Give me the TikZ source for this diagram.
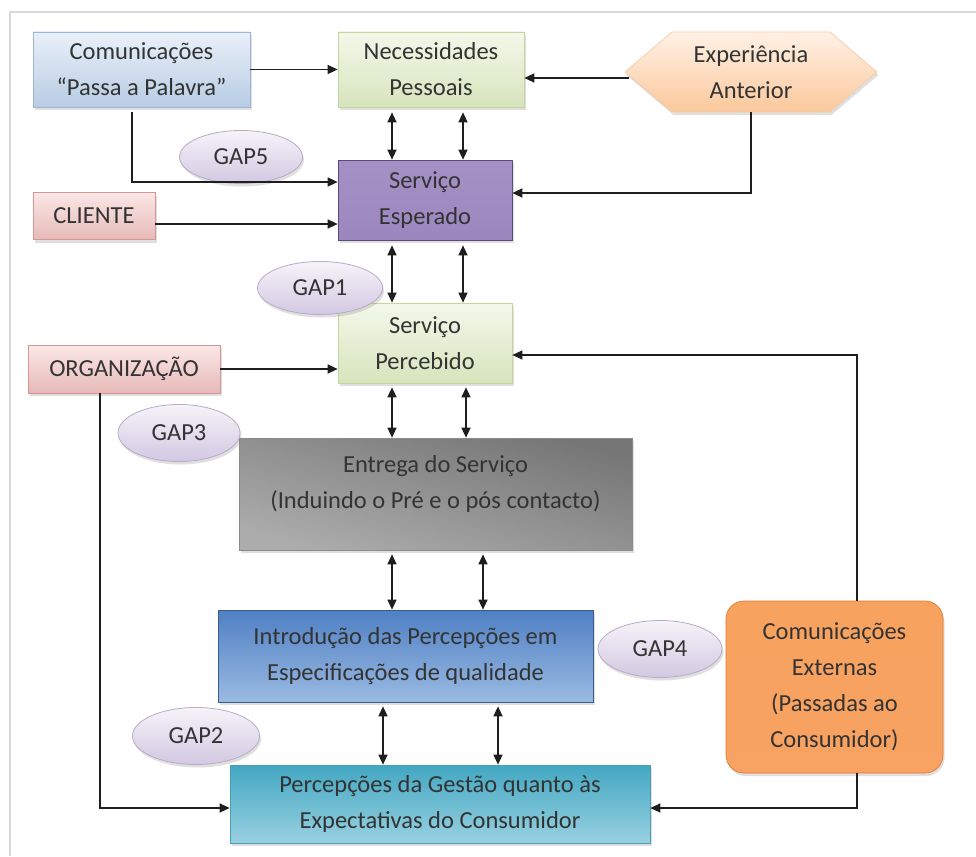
\documentclass[tikz,border=0pt]{standalone}
\usepackage{fontspec}
\setmainfont{Carlito}
\usetikzlibrary{arrows.meta,shadows,shapes.geometric}
\definecolor{txt}{HTML}{333333}
\definecolor{arrowc}{HTML}{1E1E1E}
\definecolor{comtop}{HTML}{E9F0F9}\definecolor{combot}{HTML}{B8CCE4}\definecolor{comdraw}{HTML}{9DB6D6}
\definecolor{nectop}{HTML}{F3F8EA}\definecolor{necbot}{HTML}{D7E4BD}\definecolor{necdraw}{HTML}{C3D69B}
\definecolor{exptop}{HTML}{FEF1E6}\definecolor{expbot}{HTML}{FBC89C}\definecolor{expdraw}{HTML}{F5CBA7}
\definecolor{esptop}{HTML}{A591C6}\definecolor{espmid}{HTML}{7A5C9E}\definecolor{espbot}{HTML}{9C86BE}\definecolor{espdraw}{HTML}{5F497A}
\definecolor{pinktop}{HTML}{FAE8E7}\definecolor{pinkbot}{HTML}{E6B9B8}\definecolor{pinkdraw}{HTML}{D99594}
\definecolor{enttop}{HTML}{767676}\definecolor{entmid}{HTML}{D4D4D4}\definecolor{entbot}{HTML}{ACACAC}\definecolor{entdraw}{HTML}{8A8A8A}
\definecolor{inttop}{HTML}{4F80C4}\definecolor{intmid}{HTML}{6893D2}\definecolor{intbot}{HTML}{9ABAE2}\definecolor{intdraw}{HTML}{385D8A}
\definecolor{exttop}{HTML}{F8A25F}\definecolor{extmid}{HTML}{F58733}\definecolor{extbot}{HTML}{F8A263}\definecolor{extdraw}{HTML}{E07A2C}
\definecolor{pgtop}{HTML}{43A7C2}\definecolor{pgbot}{HTML}{98D1E1}\definecolor{pgdraw}{HTML}{4A9DB5}
\definecolor{gaptop}{HTML}{F6F3F9}\definecolor{gapbot}{HTML}{D3C8E2}\definecolor{gapdraw}{HTML}{B7ACC8}
\begin{document}
\begin{tikzpicture}[x=1pt,y={(0pt,-1pt)},
  every node/.style={font=\fontsize{24.5}{36}\selectfont, text=txt, align=center, inner sep=0pt},
  shad/.style={drop shadow={shadow xshift=1.5pt,shadow yshift=-3pt,opacity=0.25}},
  box/.style={rectangle, line width=0.7pt, shad},
  gap/.style={ellipse, draw=gapdraw, line width=0.8pt, top color=gaptop, bottom color=gapbot, shad},
  tip/.tip={Triangle[length=10pt,width=9pt]},
  arr/.style={-tip, line width=1.4pt, draw=arrowc},
  darr/.style={tip-tip, line width=1.4pt, draw=arrowc}]
\fill[white] (0,0) rectangle (976,856);
\useasboundingbox (0,0) rectangle (976,856);
% frame
\draw[gray!30, line width=1.5pt] (10,856) -- (10,12) -- (976,12);
% hexagon outline of Experiencia Anterior
\path[draw=expdraw, line width=0.7pt, top color=exptop, bottom color=expbot, shad]
  (625,72) -- (672,32) -- (830,32) -- (877,72) -- (830,112) -- (672,112) -- cycle;
% nodes
\node[box, draw=comdraw, top color=comtop, bottom color=combot, minimum width=217, minimum height=75] (com) at (141.5,69.5) {Comunicações\\“Passa a Palavra”};
\node[box, draw=necdraw, top color=nectop, bottom color=necbot, minimum width=186, minimum height=75] (nec) at (431,69.5) {Necessidades\\Pessoais};
\node[minimum width=252, minimum height=80] (exp) at (751,72) {Experiência\\Anterior};
\node[box, draw=espdraw, top color=esptop, middle color=espmid, bottom color=espbot, minimum width=174, minimum height=80] (esp) at (425,200) {Serviço\\Esperado};
\node[box, draw=pinkdraw, top color=pinktop, bottom color=pinkbot, minimum width=122, minimum height=47] (cli) at (94,216) {CLIENTE};
\node[box, draw=necdraw, top color=nectop, bottom color=necbot, minimum width=174, minimum height=80] (per) at (425,343) {Serviço\\Percebido};
\node[box, draw=pinkdraw, top color=pinktop, bottom color=pinkbot, minimum width=192, minimum height=48] (org) at (124,369) {ORGANIZAÇÃO};
\node[box, draw=entdraw, top color=enttop, middle color=entmid, bottom color=entbot, shading angle=-15, minimum width=393, minimum height=112,
  label={[yshift=10pt]center:{Entrega do Serviço\\(Induindo o Pré e o pós contacto)}}] (ent) at (435.5,494) {};
\node[box, draw=intdraw, top color=inttop, middle color=intmid, bottom color=intbot, minimum width=375, minimum height=92] (intro) at (405.5,656) {Introdução das Percepções em\\Especificações de qualidade};
\node[box, draw=extdraw, top color=exttop, middle color=extmid, bottom color=extbot, rounded corners=18pt, minimum width=217, minimum height=172] (ext) at (834.5,687) {Comunicações\\Externas\\(Passadas ao\\Consumidor)};
\node[box, draw=pgdraw, top color=pgtop, bottom color=pgbot, minimum width=420, minimum height=78] (pg) at (440,804) {Percepções da Gestão quanto às\\Expectativas do Consumidor};
% gaps
\node[gap, minimum width=123, minimum height=53] (g5) at (241,157) {GAP5};
\node[gap, minimum width=125, minimum height=53] (g1) at (320,288) {GAP1};
\node[gap, minimum width=122, minimum height=57] (g3) at (179,433) {GAP3};
\node[gap, minimum width=124, minimum height=57] (g4) at (660,649) {GAP4};
\node[gap, minimum width=127, minimum height=57] (g2) at (196,736) {GAP2};
% column coordinates
\coordinate (xa) at (392,0);
\coordinate (xb) at (463,0);
\coordinate (xc) at (466,0);
\coordinate (xd) at (483,0);
\coordinate (xe) at (383,0);
\coordinate (xf) at (498,0);
% connectors
\draw[arr] (com.east) -- (com.east -| nec.west);
\draw[arr] ([xshift=4pt,yshift=-6pt]exp.west) -- ([yshift=-6pt]exp.west -| nec.east);
\draw[arr] ([xshift=-9.5pt,yshift=-5pt]com.south) |- ([yshift=18pt]esp.west);
\draw[arr] ([yshift=-8pt]cli.east) -- ([yshift=-8pt]cli.east -| esp.west);
\draw[arr] (exp.south) |- ([yshift=7pt]esp.east);
\draw[darr] ([yshift=-5pt]nec.south -| xa) -- (esp.north -| xa);
\draw[darr] ([yshift=-5pt]nec.south -| xb) -- (esp.north -| xb);
\draw[darr] ([yshift=-5pt]esp.south -| xa) -- (per.north -| xa);
\draw[darr] ([yshift=-5pt]esp.south -| xb) -- (per.north -| xb);
\draw[arr] (org.east) -- (org.east -| per.west);
\draw[arr] ([xshift=22.5pt]ext.north) |- ([yshift=-12pt]per.east);
\draw[darr] ([yshift=-4pt]per.south -| xa) -- (ent.north -| xa);
\draw[darr] ([yshift=-4pt]per.south -| xc) -- (ent.north -| xc);
\draw[darr] ([yshift=-4pt]ent.south -| xa) -- (intro.north -| xa);
\draw[darr] ([yshift=-4pt]ent.south -| xd) -- (intro.north -| xd);
\draw[darr] ([yshift=-4pt]intro.south -| xe) -- (pg.north -| xe);
\draw[darr] ([yshift=-4pt]intro.south -| xf) -- (pg.north -| xf);
\draw[arr] ([xshift=-24pt]org.south) |- ([yshift=-4pt]pg.west);
\draw[arr] ([xshift=22.5pt]ext.south) |- ([yshift=-4pt]pg.east);
\end{tikzpicture}
\end{document}
